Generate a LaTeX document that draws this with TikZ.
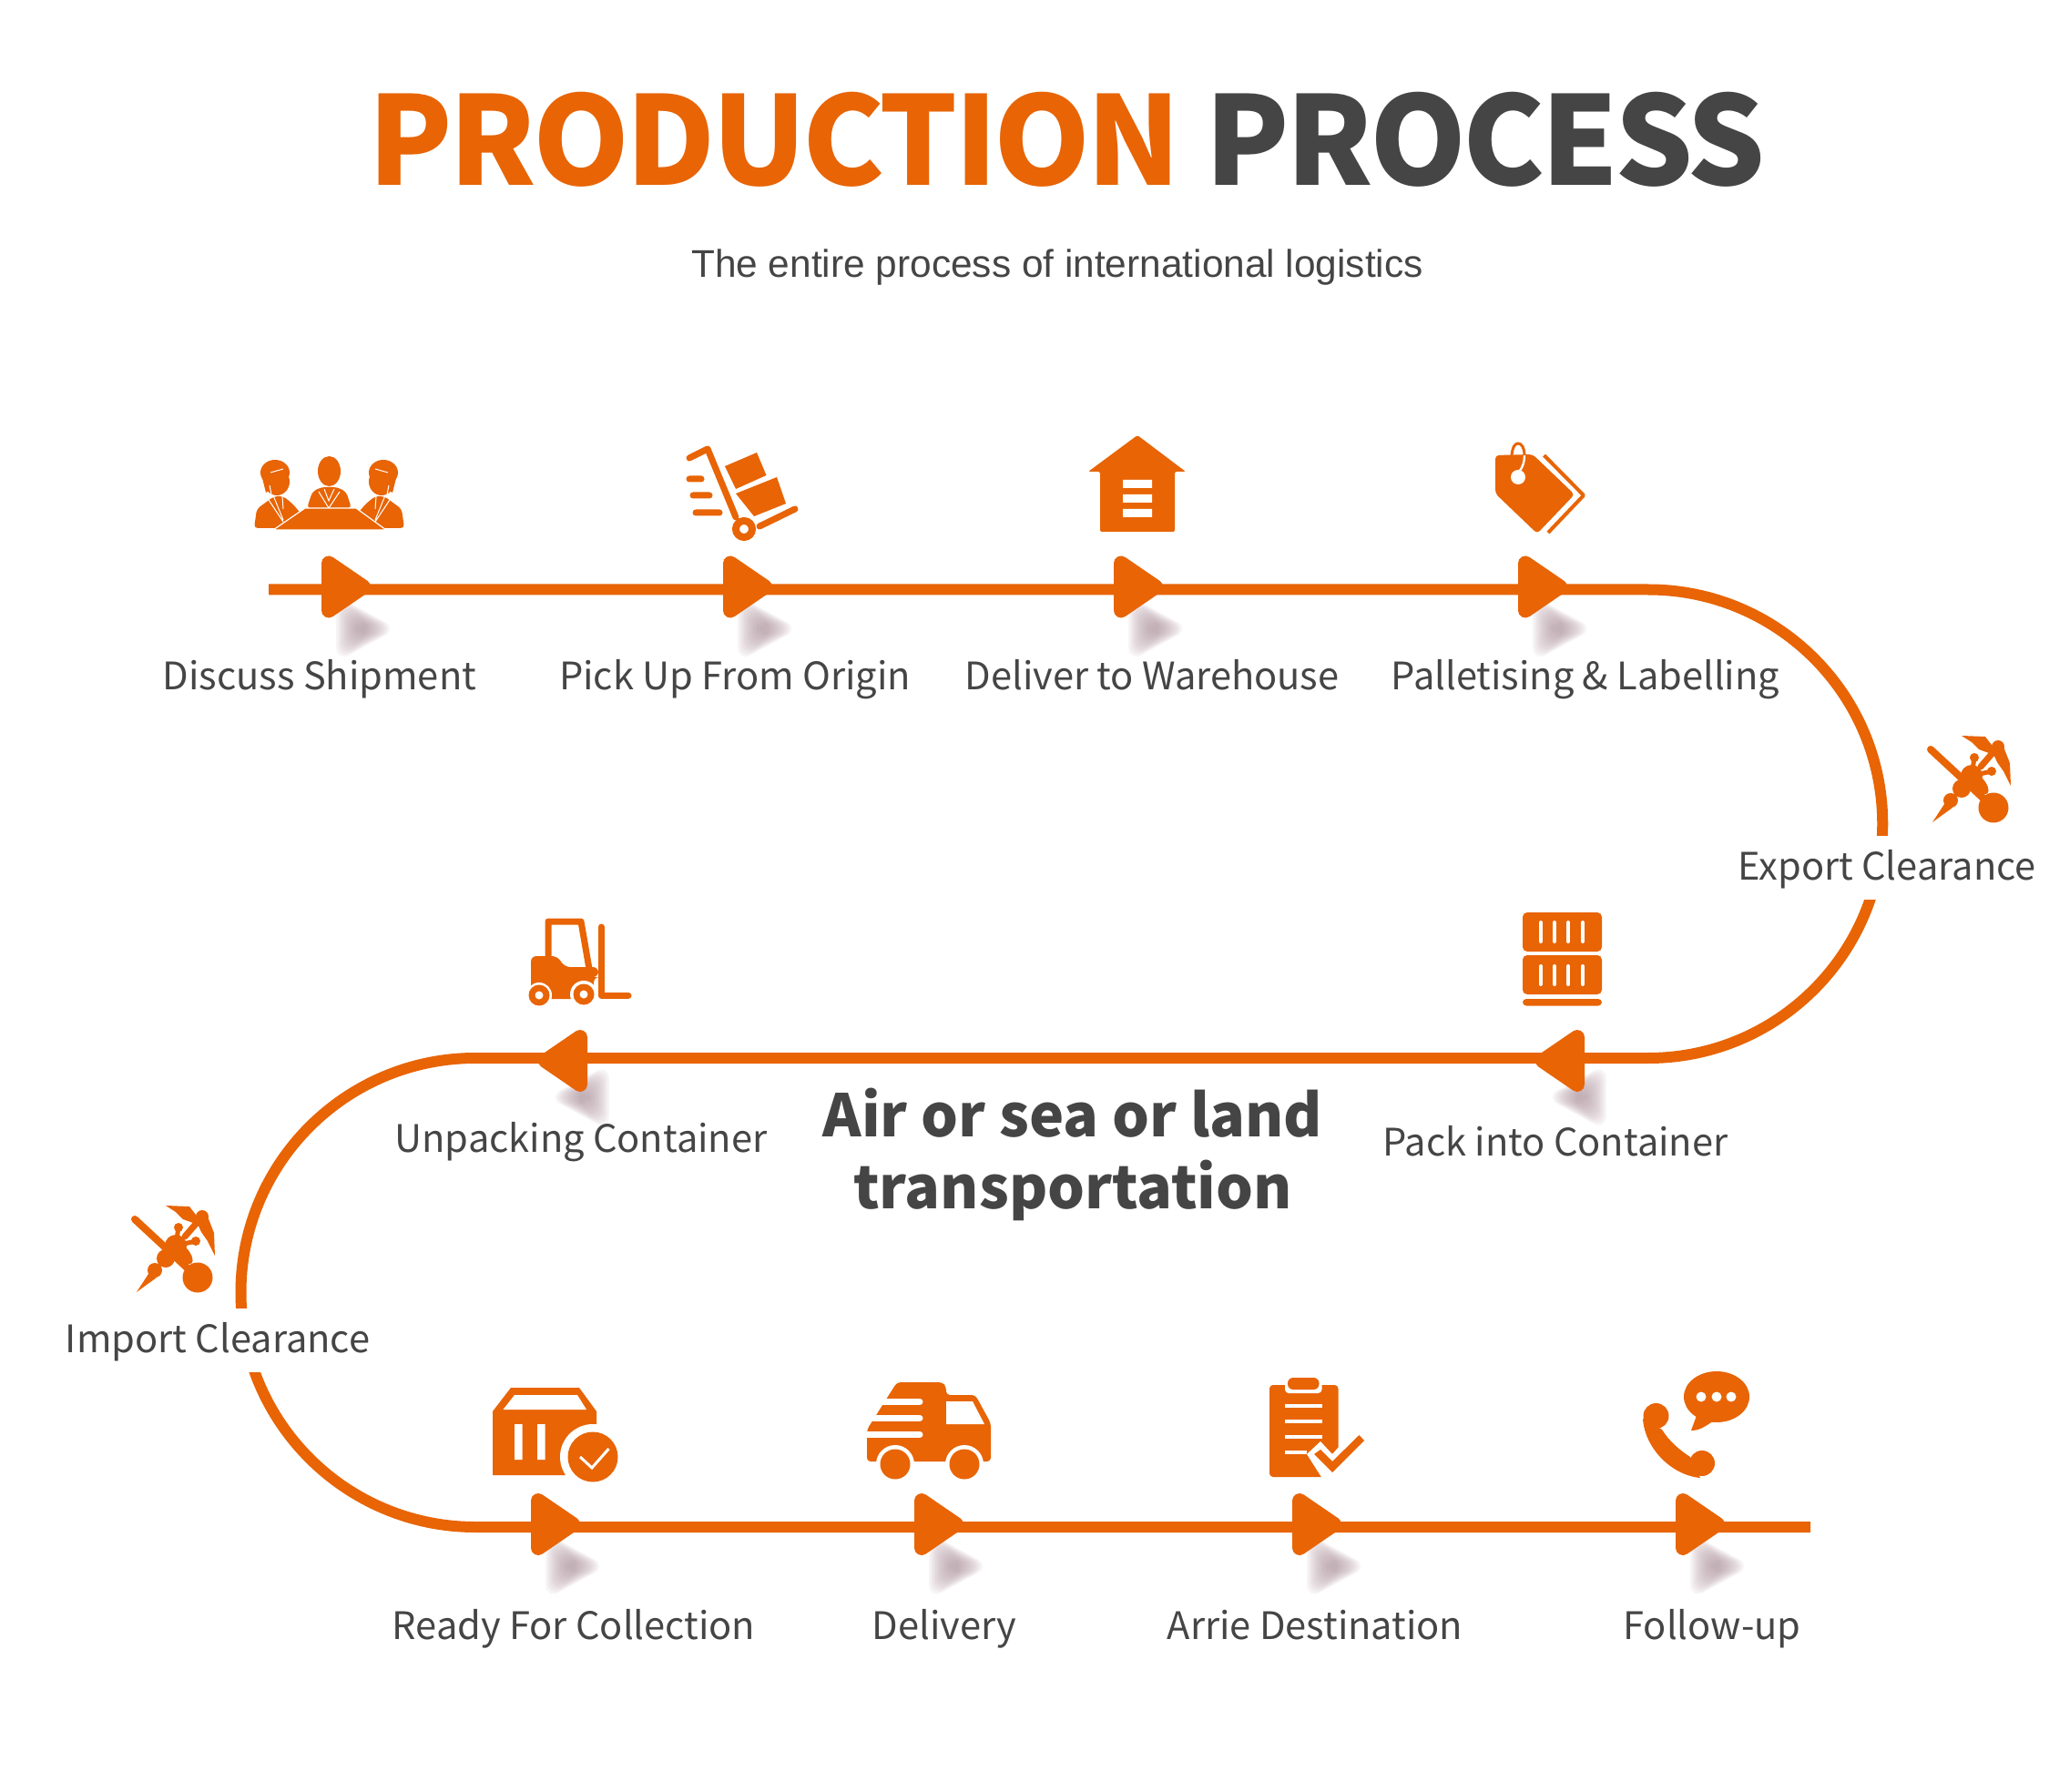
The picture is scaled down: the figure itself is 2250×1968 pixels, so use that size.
\documentclass[tikz,border=0pt]{standalone}
\usepackage{fontspec}
\usetikzlibrary{calc}
\setmainfont{Noto Sans CJK SC}
\newfontfamily\subfont{Liberation Sans}
\newfontfamily\headfont{Noto Sans CJK SC}[LetterSpace=-2.9]
\definecolor{brand}{HTML}{E86405}
\definecolor{ink}{HTML}{454545}
\definecolor{mist}{HTML}{A88A96}
\tikzset{
  pipe/.style={draw=brand,line width=6pt,line join=round},
  ico/.style={fill=brand},
  cut/.style={fill=white},
  bar/.style={draw=brand,line width=3.5pt,line cap=round,line join=round},
  step label/.style={font=\fontsize{20.8}{24}\selectfont,text=ink,inner sep=0pt,anchor=base},
  gap label/.style={step label,fill=white,text height=24pt,text depth=11pt},
  flowtip/.pic={\draw[fill=brand,draw=brand,line width=8pt,line join=round] (-19,-29) -- (-19,23) -- (19,-3) -- cycle;},
  hazetip/.pic={\foreach \k in {1.4,1.3,...,.4}
    \fill[mist,opacity=.085,rounded corners=8pt,scale=\k] (-22,-26) -- (-22,26) -- (26,0) -- cycle;},
  person/.pic={
    \fill[ico,rounded corners=2pt] (-24,55) -- (-21,34) -- (-2,20) -- (8,20) -- (18,28) -- (30,42) -- (14,55) -- cycle;
    \fill[ico] (1,4) ellipse[x radius=14,y radius=15];
    \fill[ico] (-1,-6) ellipse[x radius=16,y radius=14];
    \fill[ico] (-16,-4) -- (-11,16) -- (0,10) -- cycle;
    \draw[white,line width=.5pt] (-3,19) -- (8,46) (7,20) -- (8,34) (-8,24) -- (8,48) (-7,8) -- (-5,18) (-6,-6) -- (8,-10);
  },
  hermes/.pic={
    \draw[bar,line width=4pt] (-45,-29) -- (24,35);
    \fill[ico] (24,35) circle[radius=16.5];
    \fill[ico] (0,0) circle[radius=12] (-11,14) circle[radius=10] (-23,27) circle[radius=8];
    \fill[ico,rotate around={-48:(0,0)}] (10,0) ellipse[x radius=16,y radius=7];
    \fill[ico] (-43,51) -- (-28,28) -- (-21,35) -- cycle;
    \draw[bar,line width=2.5pt] (0,0) -- (3,-20) (0,0) -- (22,-5);
    \draw[bar,line width=3.5pt] (10,-10) -- (29,-32);
    \fill[ico] (3,-20) circle[radius=5] (22,-5) circle[radius=5] (29,-32) circle[radius=7];
    \fill[ico] (-11,-44) -- (15,-43) -- (25,-30) -- (19,-25) -- (8,-29) -- (0,-37) -- cycle;
    \fill[ico] (33,-37) -- (42,-14) -- (43,11) -- (35,-5) -- (28,-15) -- (24,-24) -- cycle;
  }
}
\begin{document}
\begin{tikzpicture}[x=.5pt,y=-.5pt]
\path[use as bounding box,fill=white] (0,0) rectangle (2250,1968);
% headings
\node[font=\fontsize{67.5}{80}\headfont\bfseries,text=ink,inner sep=0pt,anchor=base] (heading) at (1172,204) {\textcolor{brand}{PRODUCTION} PROCESS};
\node[font=\fontsize{21.2}{26}\subfont,text=ink,inner sep=0pt,anchor=base] (subheading) at (1161,305) {The entire process of international logistics};
% path
\foreach \n/\px/\py in {a/380/647.5,b/821/647.5,c/1250/647.5,d/1694/647.5,
    e/1713/1162,f/618/1162,
    g/610/1677,h/1031/1677,i/1446/1677,j/1867/1677}{
  \coordinate (\n) at (\px,\py);
}
\coordinate (start) at (295,647.5);
\coordinate (finish) at (1988,1677);
\coordinate (bendr) at (1810,647.5);
\coordinate (bendrb) at (1810,1162);
\coordinate (bendl) at (522,1162);
\coordinate (bendlb) at (522,1677);
\foreach \n/\a in {a/0,b/0,c/0,d/0,e/180,f/180,g/0,h/0,i/0,j/0}{
  \pic[rotate=\a] at ($(\n)+(20,43)$) {hazetip};
}
\draw[pipe] (start) -- (a) -- (b) -- (c) -- (d) -- (bendr) arc[start angle=-90,end angle=90,radius=257.25]
  -- (e) -- (f) -- (bendl) arc[start angle=-90,end angle=-270,radius=257.5]
  -- (g) -- (h) -- (i) -- (j) -- (finish);
\foreach \n/\a in {a/0,b/0,c/0,d/0,e/180,f/180,g/0,h/0,i/0,j/0}{
  \pic[rotate=\a] at (\n) {flowtip};
}
% labels
\node[step label] (la) at (351,758) {Discuss Shipment};
\node[step label] (lb) at (807,758) {Pick Up From Origin};
\node[step label] (lc) at (1265,758) {Deliver to Warehouse};
\node[step label] (ld) at (1741,758) {Palletising \& Labelling};
\node[gap label] (lx) at (2072,966) {Export Clearance};
\node[step label] (le) at (1708,1269) {Pack into Container};
\node[step label] (lf) at (638,1265) {Unpacking Container};
\node[font=\fontsize{32.2}{39.5}\selectfont\bfseries,text=ink,align=center,inner sep=0pt] (air) at (1178,1268) {Air or sea or land\\transportation};
\node[gap label] (lm) at (239,1485) {Import Clearance};
\node[step label] (lg) at (630,1800) {Ready For Collection};
\node[step label] (lh) at (1037,1800) {Delivery};
\node[step label] (li) at (1444,1800) {Arrie Destination};
\node[step label] (lj) at (1880,1800) {Follow-up};
% meeting
\pic at (303,525) {person};
\pic[xscale=-1] at (420,525) {person};
\fill[ico,rounded corners=2pt] (337,558) -- (343,540) -- (353,535) -- (370,535) -- (380,540) -- (386,558) -- cycle;
\fill[ico] (361.5,517.5) ellipse[x radius=12.5,y radius=16.5];
\draw[white,line width=.5pt] (350,540) -- (361,558) -- (373,540) (356,537) -- (361,550) -- (367,537);
\fill[ico,draw=white,line width=.6pt] (335,558) -- (391,558) -- (424,582) -- (300,582) -- cycle;
% trolley
\draw[bar] (757,503) -- (777,493) -- (808,568);
\fill[ico] (796,512) -- (831,497) -- (841.5,522) -- (808,537) -- cycle;
\fill[ico] (808,542) -- (853,524) -- (863,553) -- (828,567) -- cycle;
\draw[draw=brand,line width=4pt] (817,581) circle[radius=9];
\draw[bar] (834,578) -- (873,559) (757,526) -- (770,526) (761,544) -- (779,544) (764,563) -- (790,563);
% warehouse
\fill[ico,rounded corners=1pt] (1249,478) -- (1302,518) -- (1290,518) -- (1290,584) -- (1208,584) -- (1208,518) -- (1195,518) -- cycle;
\fill[cut] (1233,527) rectangle (1265,536) (1233,543) rectangle (1265,552) (1233,559) rectangle (1265,568);
% tag
\fill[ico,rounded corners=2pt] (1642,500) -- (1683,499) -- (1729,543) -- (1688,586) -- (1642,542) -- cycle;
\draw[draw=brand,line width=2pt,line join=round] (1695.5,500) -- (1739,544) -- (1700,585);
\fill[cut] (1667,524) circle[radius=8];
\draw[white,line width=1.2pt] (1668,518) .. controls (1673,512) and (1674,506) .. (1674,500);
\draw[draw=brand,line width=1.5pt] (1660,500) .. controls (1661,490) and (1664,487) .. (1667,487) .. controls (1671,487) and (1674,492) .. (1674,500);
% clearance
\pic at (2165,852) {hermes};
\pic at (193,1368) {hermes};
% containers
\fill[ico,rounded corners=2.5pt] (1672,1002) rectangle (1759,1045);
\fill[ico,rounded corners=2.5pt] (1672,1049) rectangle (1759,1092);
\fill[ico,rounded corners=2pt] (1672,1097) rectangle (1759,1104.5);
\foreach \sx in {1692,1707,1722,1738}{
  \draw[white,line width=2pt,line cap=round] (\sx,1013) -- (\sx,1034) (\sx,1061) -- (\sx,1081);
}
% forklift
\draw[bar,line cap=butt] (602,1052) -- (602,1012) -- (638,1012) -- (647,1064);
\fill[ico,rounded corners=3pt] (583,1090) -- (583,1050) -- (612,1050) -- (620,1062) -- (657,1062) -- (657,1073) -- (652,1073) -- (652,1097) -- (583,1097) -- cycle;
\fill[cut] (592,1093) circle[radius=14] (641,1092) circle[radius=15];
\fill[ico] (592,1093) circle[radius=11.5] (641,1092) circle[radius=11.5];
\fill[cut] (592,1093) circle[radius=4.5] (641,1092) circle[radius=4.5];
\draw[bar] (660,1018) -- (660,1093) -- (690,1093);
% ready box
\fill[ico] (541,1550) -- (561,1524) -- (636,1524) -- (655,1550) -- (655,1610) -- (620,1620) -- (541,1620) -- cycle;
\fill[cut] (565,1532) -- (634,1532) -- (644,1548) -- (552.5,1548) -- cycle;
\fill[cut] (565,1564) rectangle (573.5,1603) (590,1564) rectangle (598.5,1603);
\fill[cut] (651,1600) circle[radius=36];
\fill[ico] (651,1600) circle[radius=27.5];
\draw[white,line width=1.5pt] (637,1600) -- (650,1612) -- (668.5,1591);
% truck
\fill[ico,rounded corners=2pt] (985,1518) -- (1035,1518) -- (1039,1523) -- (1039,1532) -- (1071,1532) -- (1088,1563) -- (1088,1605) -- (952,1605) -- (952,1570) -- cycle;
\fill[cut] (1039,1539) -- (1068,1539) -- (1081,1564) -- (1039,1564) -- cycle;
\draw[white,line width=3.5pt,line cap=round] (940,1539.5) -- (1010,1539.5) (940,1557.5) -- (1010,1557.5) (940,1575.5) -- (1010,1575.5);
\fill[cut] (983,1608) circle[radius=21] (1059,1608) circle[radius=21];
\fill[ico] (983,1608) circle[radius=16.5] (1059,1608) circle[radius=16.5];
% clipboard
\fill[ico,rounded corners=2pt] (1394,1521) rectangle (1469.5,1622);
\fill[cut,rounded corners=2pt] (1411,1512) rectangle (1451.5,1530);
\fill[ico,rounded corners=3pt] (1414,1513) rectangle (1448.5,1526);
\draw[white,line width=1.7pt] (1411,1544) -- (1452,1544) (1411,1561) -- (1452,1561) (1411,1578) -- (1452,1578) (1411,1595) -- (1435,1595);
\fill[cut] (1435,1597) -- (1450,1583) -- (1463,1597) -- (1480,1578) -- (1500,1600) -- (1472,1630) -- (1456,1630) -- cycle;
\fill[ico] (1443,1597) -- (1450,1592) -- (1463,1605) -- (1492.5,1576) -- (1498,1582) -- (1463,1617) -- cycle;
% phone
\fill[ico] (1885,1534) ellipse[x radius=36,y radius=28];
\fill[ico] (1864,1552) -- (1857,1571) .. controls (1866,1571) and (1872,1567) .. (1882,1560) -- cycle;
\fill[cut] (1868,1534) circle[radius=5.5] (1885,1534) circle[radius=5.5] (1901,1534) circle[radius=5.5];
\fill[ico] (1804,1558) .. controls (1806,1590) and (1835,1620) .. (1867,1623) -- (1856,1600) .. controls (1845,1593) and (1833,1583) .. (1825,1570) -- cycle;
\fill[ico] (1818.5,1555) circle[radius=14] (1869,1607) circle[radius=14];
\end{tikzpicture}
\end{document}
